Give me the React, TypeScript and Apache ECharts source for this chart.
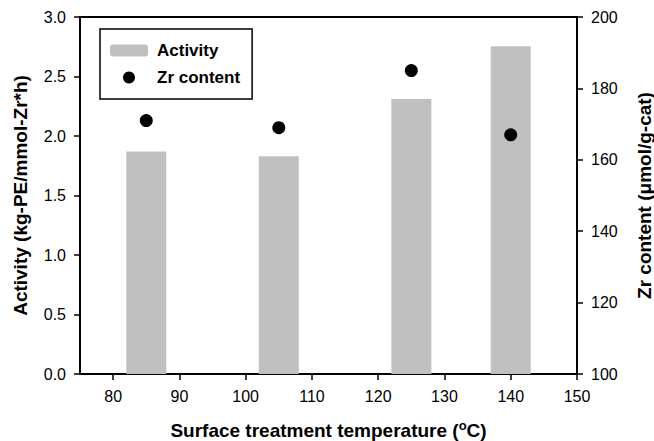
import React, { useEffect, useRef } from "react";
import * as echarts from "echarts";

const temperatures = [85, 105, 125, 140];
const activity = [1.87, 1.83, 2.31, 2.755];
const zrContent = [171, 169, 185, 167];
const xTicks = [80, 90, 100, 110, 120, 130, 140, 150];

const FONT = "Arial, 'Liberation Sans', Helvetica, sans-serif";

export default function App() {
  const ref = useRef<HTMLDivElement>(null);
  useEffect(() => {
    if (!ref.current) return;
    const chart = echarts.init(ref.current, undefined, { renderer: "svg" });
    const axisLineStyle = { color: "#000", width: 2 };
    chart.setOption({
      animation: false,
      backgroundColor: "#fff",
      grid: {
        left: 80,
        right: 77,
        top: 17,
        bottom: 67,
        containLabel: false,
        outerBoundsMode: "none",
        show: true,
        borderColor: "#000",
        borderWidth: 2,
        backgroundColor: "transparent",
      },
      legend: {
        data: ["Activity", "Zr content"],
        orient: "vertical",
        left: 100,
        top: 29,
        itemWidth: 38,
        itemHeight: 12,
        itemGap: 10,
        padding: [13, 12, 13, 10],
        borderColor: "#000",
        borderWidth: 1.5,
        borderRadius: 0,
        textStyle: {
          fontFamily: FONT,
          fontSize: 17,
          fontWeight: "bold",
          color: "#000",
          padding: [0, 0, 0, 4],
        },
      },
      xAxis: {
        type: "value",
        min: 75,
        max: 150,
        name: "Surface treatment temperature ({sup|o}C)",
        nameLocation: "middle",
        nameGap: 45,
        nameTextStyle: {
          fontFamily: FONT,
          fontSize: 19,
          fontWeight: "bold",
          color: "#000",
          rich: {
            sup: {
              fontFamily: FONT,
              fontSize: 13,
              fontWeight: "bold",
              color: "#000",
              verticalAlign: "top",
              padding: [0, 0, 9, 0],
            },
          },
        },
        axisLine: { show: true, lineStyle: axisLineStyle },
        axisTick: {
          show: true,
          inside: false,
          length: 6,
          customValues: xTicks,
          lineStyle: { color: "#000", width: 1.5 },
        },
        axisLabel: {
          customValues: xTicks,
          margin: 14,
          fontFamily: FONT,
          fontSize: 16,
          color: "#000",
        },
        splitLine: { show: false },
      },
      yAxis: [
        {
          type: "value",
          min: 0,
          max: 3,
          interval: 0.5,
          position: "left",
          name: "Activity (kg-PE/mmol-Zr*h)",
          nameLocation: "middle",
          nameRotate: 90,
          nameGap: 50,
          nameTextStyle: {
            fontFamily: FONT,
            fontSize: 19,
            fontWeight: "bold",
            color: "#000",
          },
          axisLine: { show: true, lineStyle: axisLineStyle },
          axisTick: {
            show: true,
            inside: false,
            length: 6,
            lineStyle: { color: "#000", width: 1.5 },
          },
          axisLabel: {
            margin: 14,
            fontFamily: FONT,
            fontSize: 16,
            color: "#000",
            formatter: (v: number) => v.toFixed(1),
          },
          splitLine: { show: false },
        },
        {
          type: "value",
          min: 100,
          max: 200,
          interval: 20,
          position: "right",
          name: "Zr content (\u03bcmol/g-cat)",
          nameLocation: "middle",
          nameRotate: 90,
          nameGap: 58,
          nameTextStyle: {
            fontFamily: FONT,
            fontSize: 19,
            fontWeight: "bold",
            color: "#000",
          },
          axisLine: { show: true, lineStyle: axisLineStyle },
          axisTick: {
            show: true,
            inside: false,
            length: 6,
            lineStyle: { color: "#000", width: 1.5 },
          },
          axisLabel: {
            margin: 14,
            fontFamily: FONT,
            fontSize: 16,
            color: "#000",
          },
          splitLine: { show: false },
        },
      ],
      series: [
        {
          name: "Activity",
          type: "bar",
          yAxisIndex: 0,
          barWidth: 40,
          itemStyle: { color: "#c0c0c0" },
          data: temperatures.map((t, i) => [t, activity[i]]),
          z: 1,
        },
        {
          name: "Zr content",
          type: "scatter",
          yAxisIndex: 1,
          symbol: "circle",
          symbolSize: 13,
          itemStyle: { color: "#000", opacity: 1 },
          data: temperatures.map((t, i) => [t, zrContent[i]]),
          z: 3,
        },
      ],
    });
    return () => chart.dispose();
  }, []);
  return <div ref={ref} style={{ width: 654, height: 441, position: "absolute", left: 0, top: 0 }} />;
}
